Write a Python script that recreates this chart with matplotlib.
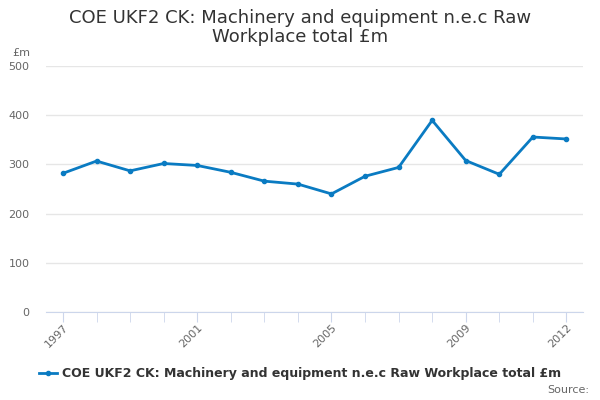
import matplotlib
matplotlib.use("Agg")
import matplotlib.pyplot as plt
from matplotlib.lines import Line2D

years = list(range(1997, 2013))
values = [282, 307, 287, 302, 298, 284, 266, 260, 240, 276, 294, 390, 308, 280, 356, 352]
label_years = [1997, 2001, 2005, 2009, 2012]
y_ticks = [0, 100, 200, 300, 400, 500]

title = "COE UKF2 CK: Machinery and equipment n.e.c Raw\nWorkplace total £m"
series_name = "COE UKF2 CK: Machinery and equipment n.e.c Raw Workplace total £m"
line_color = "#0a7bc2"

plt.rcParams['font.family'] = ['DejaVu Sans']

fig = plt.figure(figsize=(6, 4), dpi=100)
ax = fig.add_axes([0.077, 0.221, 0.895, 0.613])

ax.plot(years, values, color=line_color, linewidth=2, marker='o', markersize=3)

ax.set_xlim(1996.5, 2012.5)
ax.set_ylim(0, 500)
ax.set_yticks(y_ticks)
ax.set_yticklabels([str(v) for v in y_ticks])
ax.yaxis.grid(True, color="#e6e6e6", linewidth=1)
ax.set_axisbelow(True)

ax.set_xticks(years, minor=True)
ax.set_xticks(label_years)
ax.set_xticklabels([str(y) for y in label_years], rotation=45, ha='right',
                   rotation_mode='anchor')
ax.tick_params(axis='x', which='both', length=7, color="#ccd6eb",
               labelsize=8, labelcolor="#666666", pad=1)
ax.tick_params(axis='y', length=0, labelsize=8, labelcolor="#666666", pad=12)

for s in ['top', 'right', 'left']:
    ax.spines[s].set_visible(False)
ax.spines['bottom'].set_color("#ccd6eb")

fig.text(0.5, 0.978, title, ha='center', va='top', fontsize=13, color="#333333",
         linespacing=1.1)
fig.text(0.02, 0.868, "£m", fontsize=8, color="#666666", va='center')

handle = Line2D([], [], color=line_color, linewidth=2, marker='o', markersize=3)
fig.legend([handle], [series_name], loc='center', bbox_to_anchor=(0.5, 0.065),
           frameon=False, prop={'weight': 'bold', 'size': 9}, handlelength=1.5,
           handletextpad=0.4, labelcolor="#333333")
fig.text(0.982, 0.025, "Source:", ha='right', va='center', fontsize=8, color="#666666")

fig.savefig("out.png", dpi=100)
